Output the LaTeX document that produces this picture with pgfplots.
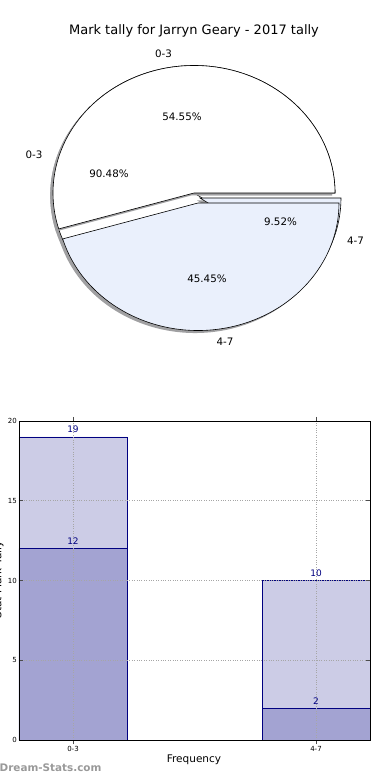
\documentclass[border=0pt]{standalone}
\usepackage{fontspec}
\setmainfont{DejaVu Sans}
\usepackage{pgfplots}
\usepackage{pgfplotstable}
\pgfplotsset{compat=1.18}
\definecolor{navy}{RGB}{0,0,128}
\definecolor{lightbar}{RGB}{204,204,230}
\definecolor{darkbar}{RGB}{163,163,210}
\definecolor{pieblue}{RGB}{234,240,252}
\definecolor{shadowgray}{RGB}{160,160,162}

\pgfplotstableread{
cat light dark
0 19 12
1 10 2
}\bardata

% outer (front) pie: 0-3 and 4-7
\pgfplotstableread{
label value
0-3 12
4-7 10
}\pieA
% back pie
\pgfplotstableread{
label value
0-3 19
4-7 2
}\pieB

\newcommand{\wedgeat}[5]{%
  \fill[shadowgray] ([xshift=-2.8pt,yshift=-2.5pt]axis cs:#1,#2) -- ++(#3:141pt and 127.5pt)
     arc[start angle=#3, end angle=#4, x radius=141pt, y radius=127.5pt] -- cycle;
  \filldraw[fill=#5, draw=black, line width=0.6pt, line join=miter] (axis cs:#1,#2) -- ++(#3:141pt and 127.5pt)
     arc[start angle=#3, end angle=#4, x radius=141pt, y radius=127.5pt] -- cycle;}

\begin{document}
\begin{tikzpicture}
\useasboundingbox (0,0) rectangle (390pt,780pt);

\pgfplotstablegetelem{0}{value}\of\pieA \let\aA\pgfplotsretval
\pgfplotstablegetelem{1}{value}\of\pieA \let\aB\pgfplotsretval
\pgfplotstablegetelem{0}{value}\of\pieB \let\bA\pgfplotsretval
\pgfplotstablegetelem{1}{value}\of\pieB \let\bB\pgfplotsretval
\pgfmathsetmacro{\angA}{360*\aA/(\aA+\aB)}
\pgfmathsetmacro{\angB}{360*\bA/(\bA+\bB)}

% ---------- pie charts ----------
\begin{axis}[at={(0pt,380pt)}, anchor=south west, x=1pt, y=1pt,
  xmin=0, xmax=390, ymin=380, ymax=780, hide axis, clip=false]
  % back pie
  \wedgeat{194}{587}{0}{\angB}{white}
  \wedgeat{200}{582}{\angB}{360}{pieblue}
  % front pie
  \wedgeat{194}{587}{0}{\angA}{white}
  \wedgeat{198}{577}{\angA}{360}{pieblue}
  \begin{scope}[font=\fontsize{10.3}{12}\selectfont, inner sep=0pt]
  \node at (axis cs:163.5,726) {0-3};
  \node at (axis cs:182,663) {54.55\%};
  \node at (axis cs:34,625) {0-3};
  \node at (axis cs:109,606) {90.48\%};
  \node at (axis cs:280.5,558) {9.52\%};
  \node at (axis cs:355.5,539) {4-7};
  \node at (axis cs:207,501) {45.45\%};
  \node at (axis cs:225,438) {4-7};
  \end{scope}
\end{axis}

\node[anchor=base, font=\fontsize{13}{15}\selectfont, inner sep=0pt] at (194pt,745.5pt) {Mark tally for Jarryn Geary - 2017 tally};

% ---------- bar chart ----------
\begin{axis}[at={(19pt,40pt)}, anchor=south west, width=351pt, height=319pt, scale only axis,
  xmin=-0.2222, xmax=1.2222, ymin=0, ymax=20,
  xtick={0,1}, xticklabels={0-3,4-7}, ytick={0,5,10,15,20},
  grid=major, grid style={dotted, gray!70, line width=0.8pt},
  axis on top, tick align=inside, major tick length=4pt,
  tick style={black!70, line width=0.6pt},
  ticklabel style={font=\fontsize{7}{8}\selectfont},
  xticklabel style={inner sep=1pt, yshift=-1pt},
  yticklabel style={inner sep=1pt, xshift=-1pt},
  /pgf/number format/assume math mode=true,
  axis line style={line width=0.8pt},
  ybar, bar shift=0pt, bar width=0.4444,
  nodes near coords,
  nodes near coords style={font=\fontsize{9}{10}\selectfont, text=navy, anchor=south, inner sep=0pt, yshift=3.5pt},
]
\addplot[fill=lightbar, draw=navy, line width=0.7pt] table[x=cat,y=light]{\bardata};
\addplot[fill=darkbar, draw=navy, line width=0.7pt] table[x=cat,y=dark]{\bardata};
\end{axis}

\node[anchor=base, font=\fontsize{10.5}{12}\selectfont, inner sep=0pt] at (194pt,17.3pt) {Frequency};
\node[anchor=base, rotate=90, font=\fontsize{10.5}{12}\selectfont, inner sep=0pt] at (1.5pt,200pt) {Stat Mark Tally};
\node[anchor=base west, font=\bfseries\fontsize{10.4}{12}\selectfont, text=black!40, inner sep=0pt] at (-0.5pt,9pt) {Dream-Stats.com};
\end{tikzpicture}
\end{document}
